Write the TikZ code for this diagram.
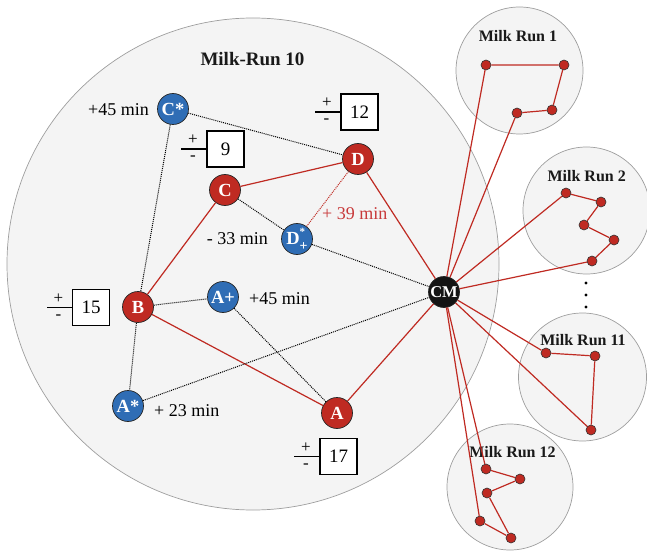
\documentclass[tikz,border=0pt]{standalone}
\usepackage{fontspec}
\setmainfont{Liberation Serif}
\definecolor{myred}{HTML}{BF2A22}
\definecolor{myblue}{HTML}{2F6DB5}
\definecolor{bgfill}{HTML}{F4F4F4}
\definecolor{rimc}{HTML}{9E9E9E}
\definecolor{lblred}{HTML}{C8393A}
\begin{document}
\begin{tikzpicture}[x=1pt,y=-1pt,
  runcirc/.style={circle, draw=rimc, fill=bgfill, line width=0.7pt, inner sep=0pt},
  rnode/.style={circle, draw=black!85, line width=0.7pt, fill=myred, minimum size=31pt, inner sep=0pt, text=white, font=\fontsize{18.5}{18.5}\selectfont\bfseries},
  bnode/.style={rnode, fill=myblue},
  cmnode/.style={rnode, fill=black!92, font=\fontsize{16.5}{16.5}\selectfont\bfseries},
  rdot/.style={circle, draw=black!80, line width=0.6pt, fill=myred, minimum size=10pt, inner sep=0pt},
  redge/.style={myred, line width=1.2pt},
  dedge/.style={black, line width=1pt, dash pattern=on 1pt off 1pt},
  rdedge/.style={myred, line width=1pt, dash pattern=on 1pt off 1pt},
  numbox/.style={draw=black, line width=1.2pt, fill=white, minimum width=37pt, minimum height=36pt, inner sep=0pt, font=\fontsize{19}{19}\selectfont},
  lbl/.style={font=\fontsize{18}{18}\selectfont, inner sep=0pt},
  bigtitle/.style={font=\fontsize{19}{19}\selectfont\bfseries, inner sep=0pt, text=black!90},
  mrtitle/.style={font=\fontsize{16}{16}\selectfont\bfseries, inner sep=0pt, text=black!90},
  sgn/.style={font=\fontsize{17}{17}\selectfont, inner sep=0pt},
  boxline/.style={black, line width=1.2pt}
]
\useasboundingbox (0,0) rectangle (647,553);

% run circles
\node[runcirc, minimum size=492pt] (mr10) at (253,264) {};
\node[runcirc, minimum size=127pt] (mr1) at (519.5,70.5) {};
\node[runcirc, minimum size=127pt] (mr2) at (586.5,210.5) {};
\node[runcirc, minimum size=128pt] (mr11) at (582.5,377) {};
\node[runcirc, minimum size=126pt] (mr12) at (510,487) {};

% titles
\node[bigtitle, anchor=base] (t10) at (252.5,65.3) {Milk-Run 10};
\node[mrtitle, anchor=base] (t1) at (518,41.7) {Milk Run 1};
\node[mrtitle, anchor=base] (t2) at (586.7,181.7) {Milk Run 2};
\node[mrtitle, anchor=base] (t11) at (583,345) {Milk Run 11};
\node[mrtitle, anchor=base] (t12) at (512.5,457) {Milk Run 12};

% vertical dots
\fill[black] (586,283) circle (1.7pt) (586,295) circle (1.7pt) (586,307) circle (1.7pt);

% main nodes
\node[bnode] (Cs) at (173,109) {C*};
\node[rnode] (C) at (225,190) {C};
\node[bnode] (Dp) at (297,239) {D\rlap{\raisebox{0.5em}{\fontsize{11}{11}\selectfont *}}\raisebox{-0.3em}{\fontsize{14}{14}\selectfont +}};
\node[rnode] (D) at (358,159) {D};
\node[rnode] (B) at (138,307) {B};
\node[bnode] (As) at (128,406) {A*};
\node[bnode] (Ap) at (223,297) {A+};
\node[rnode] (A) at (337,413) {A};
\node[cmnode] (CM) at (444,292) {CM};

% edges inside milk-run 10
\draw[redge] (C) -- (D);
\draw[redge] (C) -- (B);
\draw[redge] (B) -- (A);
\draw[redge] (A) -- (CM);
\draw[redge] (D) -- (CM);
\draw[dedge] (Cs) -- (D);
\draw[dedge] (Cs) -- (B);
\draw[dedge] (B) -- (As);
\draw[dedge] (B) -- (Ap);
\draw[dedge] (Ap) -- (A);
\draw[dedge] (C) -- (Dp);
\draw[dedge] (Dp) -- (CM);
\draw[dedge] (As) -- (CM);
\draw[rdedge] (D) -- (Dp);

% labels
\node[lbl, anchor=base east] (l1) at (149,116) {+45 min};
\node[lbl, anchor=base east] (l2) at (268,244.5) {- 33 min};
\node[lbl, anchor=base west, text=lblred] (l3) at (322,220) {+ 39 min};
\node[lbl, anchor=base west] (l4) at (249,304.5) {+45 min};
\node[lbl, anchor=base west] (l5) at (154,416.5) {+ 23 min};

% number boxes
\node[numbox] (b12) at (359.5,112) {12};
\coordinate (b12l) at (315,112);
\draw[boxline] (b12.west) -- (b12l);
\node[sgn] (b12p) at (327,102.5) {+};
\node[sgn] (b12m) at (326.5,121.5) {-};

\node[numbox] (b9) at (225.5,149) {9};
\coordinate (b9l) at (181,149);
\draw[boxline] (b9.west) -- (b9l);
\node[sgn] (b9p) at (193,139.5) {+};
\node[sgn] (b9m) at (193,158.5) {-};

\node[numbox] (b15) at (91,307.5) {15};
\coordinate (b15l) at (47,307.5);
\draw[boxline] (b15.west) -- (b15l);
\node[sgn] (b15p) at (58.5,298.5) {+};
\node[sgn] (b15m) at (58.5,317.5) {-};

\node[numbox] (b17) at (338.5,456.5) {17};
\coordinate (b17l) at (294,456.5);
\draw[boxline] (b17.west) -- (b17l);
\node[sgn] (b17p) at (306,448) {+};
\node[sgn] (b17m) at (306,466.5) {-};

% milk run 1
\node[rdot] (m1a) at (486,65) {};
\node[rdot] (m1b) at (564,65) {};
\node[rdot] (m1c) at (552,110) {};
\node[rdot] (m1d) at (517,113) {};
\draw[redge] (m1a) -- (m1b) -- (m1c) -- (m1d);
\draw[redge] (CM) -- (m1a);
\draw[redge] (CM) -- (m1d);

% milk run 2
\node[rdot] (m2a) at (566,193) {};
\node[rdot] (m2b) at (601,202) {};
\node[rdot] (m2c) at (584,225) {};
\node[rdot] (m2d) at (614,240) {};
\node[rdot] (m2e) at (592,261) {};
\draw[redge] (m2a) -- (m2b) -- (m2c) -- (m2d) -- (m2e);
\draw[redge] (CM) -- (m2a);
\draw[redge] (CM) -- (m2e);

% milk run 11
\node[rdot] (m11a) at (546,353) {};
\node[rdot] (m11b) at (595,356) {};
\node[rdot] (m11c) at (591,430) {};
\draw[redge] (m11a) -- (m11b) -- (m11c);
\draw[redge] (CM) -- (m11a);
\draw[redge] (CM) -- (m11c);

% milk run 12
\node[rdot] (m12a) at (486,469) {};
\node[rdot] (m12b) at (520,479) {};
\node[rdot] (m12c) at (487,493) {};
\node[rdot] (m12d) at (511,538) {};
\node[rdot] (m12e) at (480,521) {};
\draw[redge] (m12a) -- (m12b) -- (m12c) -- (m12d) -- (m12e);
\draw[redge] (CM) -- (m12a);
\draw[redge] (CM) -- (m12e);
\end{tikzpicture}
\end{document}
